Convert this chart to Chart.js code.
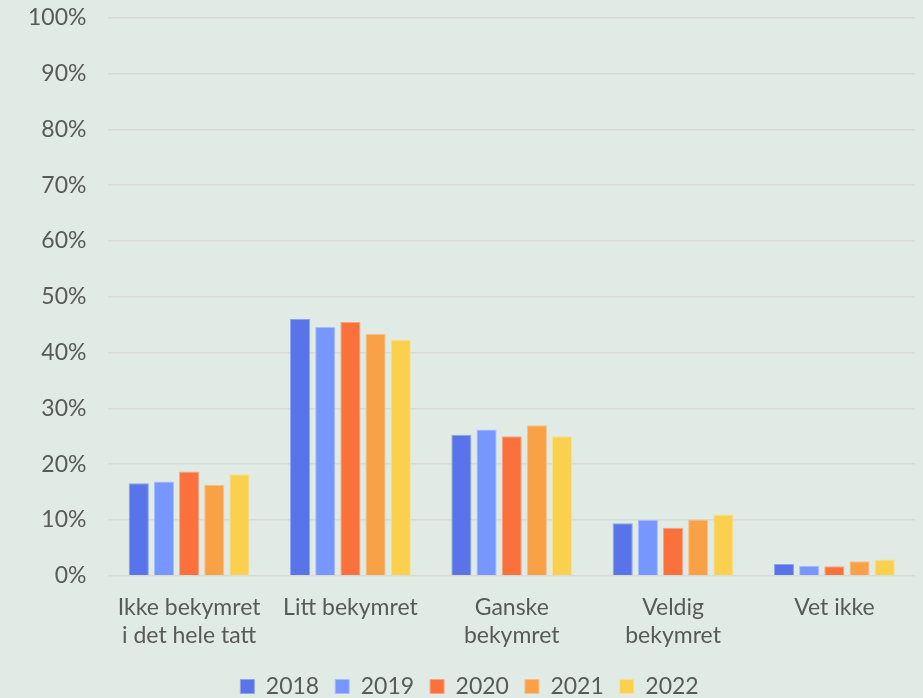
<!DOCTYPE html>
<html>
<head>
<meta charset="utf-8">
<script src="https://cdn.jsdelivr.net/npm/chart.js@4/dist/chart.umd.min.js"></script>
<style>
  html, body { margin: 0; padding: 0; background: #DFEBE4; }
  #wrap { width: 923px; height: 698px; position: relative; }
</style>
</head>
<body>
<div id="wrap"><canvas id="chart"></canvas></div>
<script>
// categories and values (percent)
const categories = [
  ["Ikke bekymret", "i det hele tatt"],
  "Litt bekymret",
  ["Ganske", "bekymret"],
  ["Veldig", "bekymret"],
  "Vet ikke"
];
const years = ["2018", "2019", "2020", "2021", "2022"];
const v2018 = [16.6, 46.0, 25.3, 9.4, 2.1];
const v2019 = [16.9, 44.6, 26.2, 10.0, 1.8];
const v2020 = [18.7, 45.5, 25.0, 8.6, 1.7];
const v2021 = [16.3, 43.4, 27.0, 10.1, 2.6];
const v2022 = [18.2, 42.3, 25.0, 11.0, 2.9];

const colors = ["#5874E8", "#7896FF", "#FB713C", "#F9A147", "#FBD04F"];
const borders = ["#8FA3F0", "#A9BDFF", "#FBA383", "#F9C18A", "#FBE08F"];
const series = [v2018, v2019, v2020, v2021, v2022];

const textColor = "#595959";
const font = { family: "Lato, 'Open Sans', sans-serif", size: 23, weight: 400 };

new Chart(document.getElementById("chart"), {
  type: "bar",
  data: {
    labels: categories,
    datasets: series.map((vals, i) => ({
      label: years[i],
      data: vals,
      backgroundColor: colors[i],
      borderColor: borders[i],
      borderWidth: 1,
      categoryPercentage: 0.78,
      barPercentage: 0.8
    }))
  },
  options: {
    responsive: true,
    maintainAspectRatio: false,
    animation: false,
    layout: { padding: { top: 0, right: 8, left: 24, bottom: -10 } },
    plugins: {
      tooltip: { enabled: false },
      legend: {
        position: "bottom",
        labels: {
          color: textColor,
          font: font,
          boxWidth: 14,
          boxHeight: 14,
          padding: 16
        }
      }
    },
    scales: {
      x: {
        grid: { display: false },
        border: { display: false },
        ticks: {
          color: textColor,
          font: font,
          maxRotation: 0,
          autoSkip: false,
          padding: 10
        }
      },
      y: {
        min: 0,
        max: 100,
        border: { display: false },
        grid: { color: "#D9D9D9", lineWidth: 1.5, drawTicks: true, tickLength: 18, tickColor: "rgba(0,0,0,0)" },
        ticks: {
          stepSize: 10,
          color: textColor,
          font: font,
          padding: 4,
          callback: v => v + "%"
        }
      }
    }
  }
});
</script>
</body>
</html>
